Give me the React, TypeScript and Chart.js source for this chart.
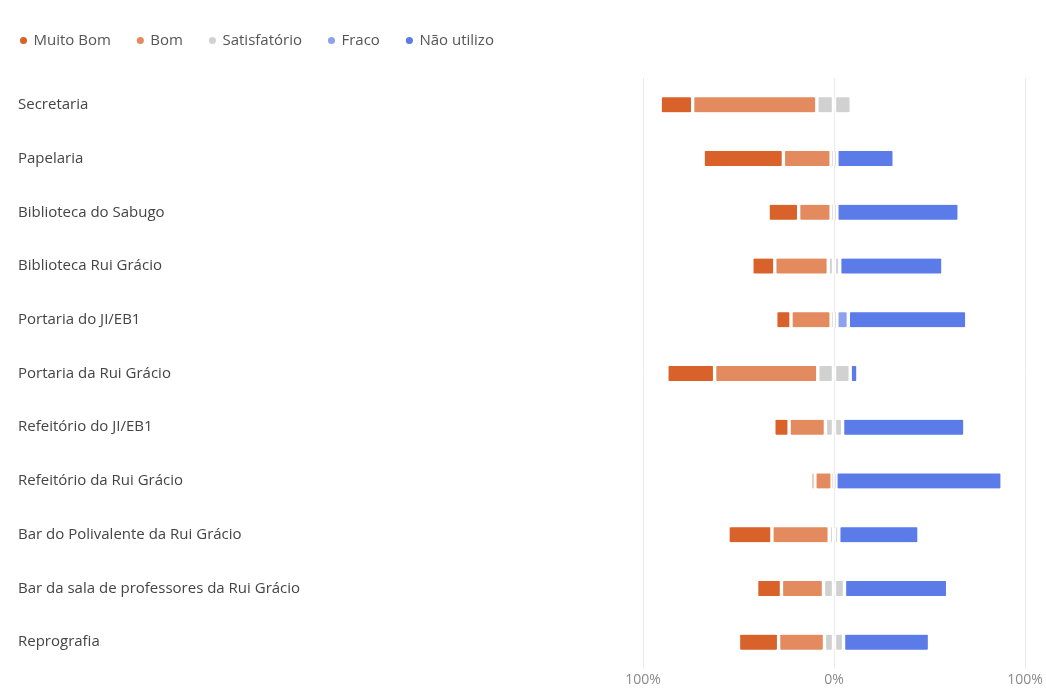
import React, { useEffect, useRef } from 'react';
import { Chart, registerables } from 'chart.js';

Chart.register(...registerables);

const categories = [
  'Secretaria',
  'Papelaria',
  'Biblioteca do Sabugo',
  'Biblioteca Rui Grácio',
  'Portaria do JI/EB1',
  'Portaria da Rui Grácio',
  'Refeitório do JI/EB1',
  'Refeitório da Rui Grácio',
  'Bar do Polivalente da Rui Grácio',
  'Bar da sala de professores da Rui Grácio',
  'Reprografia',
];

const seriesNames = ['Muito Bom', 'Bom', 'Satisfatório', 'Fraco', 'Não utilizo'];

// percentages per row
const muitoBom = [17, 42, 16, 12, 8, 25, 8, 2, 23, 13, 21];
const bom = [65, 25, 17, 28, 21, 54, 19, 9, 30, 22, 24];
const satisfatorio = [18, 3, 3, 6, 3, 17, 9, 2, 5, 11, 10];
const fraco = [0, 0, 0, 0, 6, 0, 0, 0, 0, 0, 0];
const naoUtilizo = [0, 30, 64, 54, 62, 4, 64, 87, 42, 54, 45];

const xTickValues = [-100, 0, 100];

const COLORS = ['#D9622B', '#E38B5E', '#D1D1D1', '#8DA2EE', '#5B7BE9'];
const FONT = "'Open Sans', sans-serif";
const LEGEND_PAD = 27;
const LEGEND_START_X = 21;

const legendOffset = {
  id: 'legendOffset',
  beforeInit(chart: any) {
    const legend = chart.legend;
    if (!legend) return;
    const origFit = legend.fit;
    legend.fit = function () {
      origFit.call(this);
      this.height += 20;
    };
  },
  afterLayout(chart: any) {
    if (chart.legend) {
      const target = LEGEND_START_X - LEGEND_PAD;
      const shift = chart.legend.left - target;
      chart.legend.left -= shift;
      chart.legend.right -= shift;
    }
  },
};

const nz = (v: number) => (v === 0 ? null : v);

export default function App() {
  const canvasRef = useRef<HTMLCanvasElement | null>(null);

  useEffect(() => {
    if (!canvasRef.current) return;
    const radius = { topLeft: 3, topRight: 3, bottomLeft: 3, bottomRight: 3 };
    const common = {
      stack: 's',
      barThickness: 15,
      borderColor: '#ffffff',
      borderWidth: { left: 2, right: 2, top: 0, bottom: 0 },
      borderSkipped: false as const,
      borderRadius: radius,
    };
    const datasets = [
      { label: 'Satisfatório', data: satisfatorio.map((v) => nz(-v / 2)), backgroundColor: COLORS[2], ...common },
      { label: 'Bom', data: bom.map((v) => nz(-v)), backgroundColor: COLORS[1], ...common },
      { label: 'Muito Bom', data: muitoBom.map((v) => nz(-v)), backgroundColor: COLORS[0], ...common },
      { label: 'Satisfatório ', data: satisfatorio.map((v) => nz(v / 2)), backgroundColor: COLORS[2], ...common },
      { label: 'Fraco', data: fraco.map(nz), backgroundColor: COLORS[3], ...common },
      { label: 'Não utilizo', data: naoUtilizo.map(nz), backgroundColor: COLORS[4], ...common },
    ];

    const chart = new Chart(canvasRef.current, {
      type: 'bar',
      data: { labels: categories, datasets },
      options: {
        indexAxis: 'y',
        animation: false,
        responsive: true,
        maintainAspectRatio: false,
        layout: { padding: { left: 18, right: 21, top: 6, bottom: 0 } },
        scales: {
          x: {
            stacked: true,
            min: -100,
            max: 100,
            afterBuildTicks: (scale: any) => {
              scale.ticks = xTickValues.map((v) => ({ value: v }));
            },
            afterFit: (scale: any) => {
              scale.paddingLeft = 0;
              scale.paddingRight = 0;
              scale.height = 20;
            },
            ticks: {
              callback: (v: any) => Math.abs(Number(v)) + '%',
              color: '#8a8a8a',
              font: { family: FONT, size: 14 },
              padding: 3,
              maxRotation: 0,
            },
            grid: { color: '#ebebeb', drawTicks: false },
            border: { display: false },
          },
          y: {
            stacked: true,
            afterFit: (scale: any) => {
              scale.width = 625;
            },
            ticks: {
              crossAlign: 'far',
              color: '#444444',
              font: { family: FONT, size: 15 },
            },
            grid: { display: false },
            border: { display: false },
          },
        },
        plugins: {
          tooltip: { enabled: false },
          legend: {
            position: 'top',
            align: 'start',
            labels: {
              usePointStyle: true,
              pointStyle: 'circle',
              boxWidth: 5,
              boxHeight: 5,
              padding: LEGEND_PAD,
              color: '#555555',
              font: { family: FONT, size: 15 },
              generateLabels: () =>
                seriesNames.map((n, i) => ({
                  text: n,
                  fillStyle: COLORS[i],
                  strokeStyle: COLORS[i],
                  lineWidth: 0,
                  pointStyle: 'circle',
                  hidden: false,
                  fontColor: '#555555',
                })),
            },
          },
        },
      },
      plugins: [legendOffset],
    });
    return () => chart.destroy();
  }, []);

  return (
    <div style={{ position: 'fixed', left: 0, top: 0, width: 1046, height: 689, background: '#fff' }}>
      <canvas ref={canvasRef} />
    </div>
  );
}
